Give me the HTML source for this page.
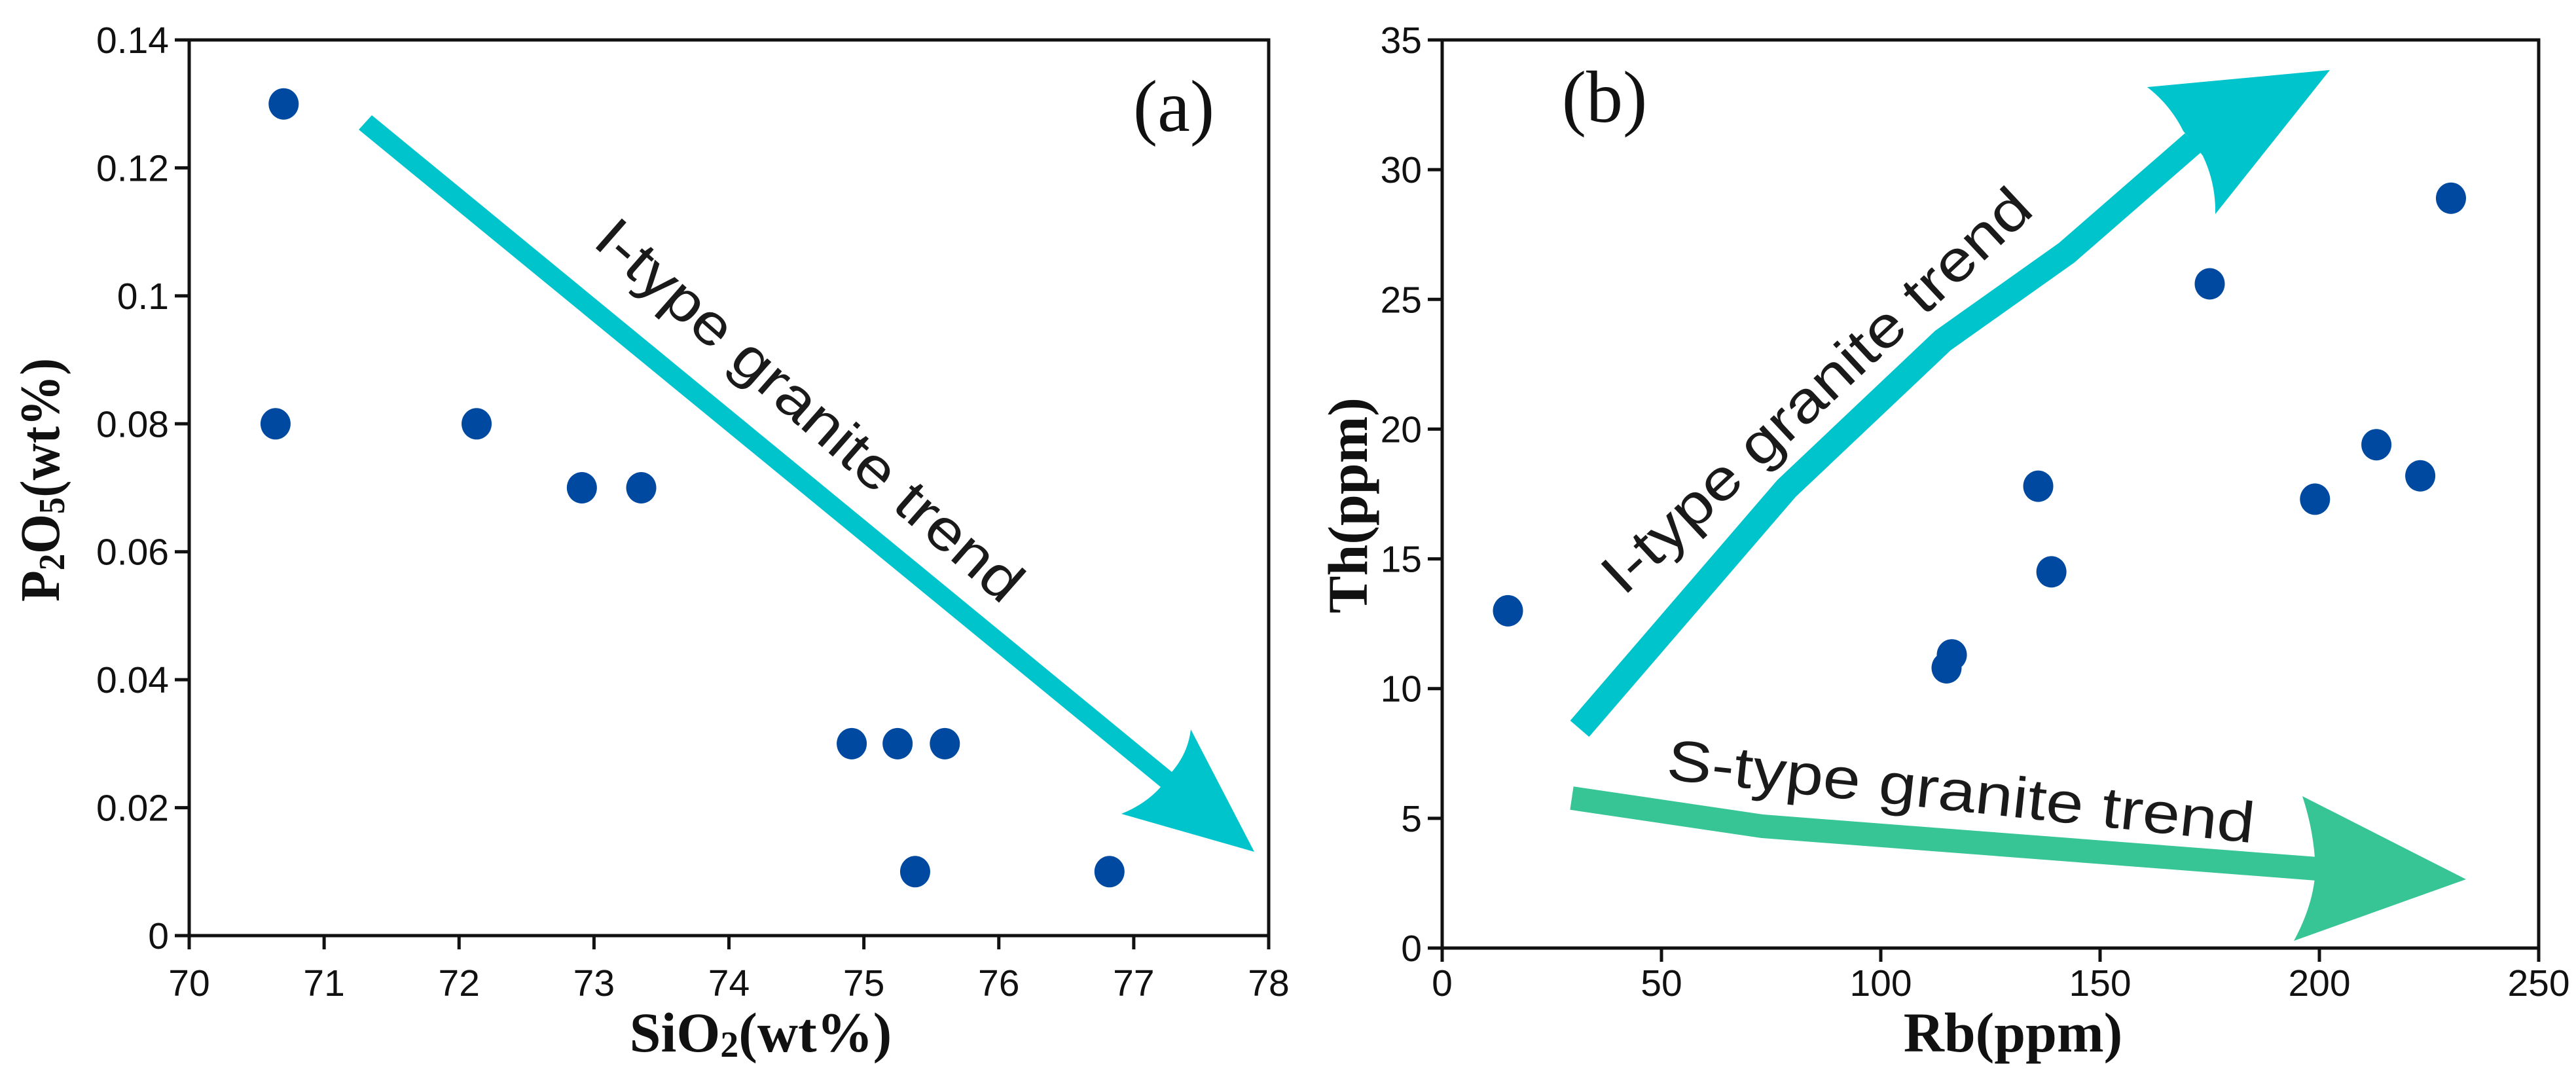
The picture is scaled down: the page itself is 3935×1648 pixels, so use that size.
<!DOCTYPE html>
<html><head><meta charset="utf-8"><style>
html,body{margin:0;padding:0;background:#fff;}
svg{display:block;}
.tk{font-family:"Liberation Sans",sans-serif;font-size:57px;fill:#111;}
.ttl{font-family:"Liberation Serif",serif;font-weight:bold;font-size:86px;fill:#111;}
.ann{font-family:"Liberation Sans",sans-serif;font-size:88px;fill:#1a1a1a;}
.lab{font-family:"Liberation Serif",serif;font-size:112px;fill:#111;}
</style></head><body>
<svg id="chart" width="3935" height="1648" viewBox="0 0 3935 1648" xmlns="http://www.w3.org/2000/svg">
<g id="pa"></g>
<g id="pb"></g>
</svg>
<script>
// Panel (a) data
const aSiO2 = [70.70, 70.64, 72.13, 72.91, 73.35, 74.91, 75.25, 75.60, 75.38, 76.82];
const aP2O5 = [0.13, 0.08, 0.08, 0.07, 0.07, 0.03, 0.03, 0.03, 0.01, 0.01];
const aXTicks = [70, 71, 72, 73, 74, 75, 76, 77, 78];
const aYTicks = [0, 0.02, 0.04, 0.06, 0.08, 0.1, 0.12, 0.14];
const aYTickLabels = ["0", "0.02", "0.04", "0.06", "0.08", "0.1", "0.12", "0.14"];
// Panel (b) data
const bRb = [15, 115, 116.2, 135.9, 138.9, 175, 199, 213, 223, 230];
const bTh = [13.0, 10.8, 11.3, 17.8, 14.5, 25.6, 17.3, 19.4, 18.2, 28.9];
const bXTicks = [0, 50, 100, 150, 200, 250];
const bYTicks = [0, 5, 10, 15, 20, 25, 30, 35];

const NS = "http://www.w3.org/2000/svg";
function mk(tag, attrs, parent, txt) {
  const e = document.createElementNS(NS, tag);
  for (const k in attrs) e.setAttribute(k, attrs[k]);
  if (txt !== undefined) e.textContent = txt;
  parent.appendChild(e);
  return e;
}
function lin(d0, d1, r0, r1) { return v => r0 + (v - d0) / (d1 - d0) * (r1 - r0); }

function axes(g, L, R, T, B, sx, sy, xt, yt, ytl) {
  const box = mk('rect', {x: L, y: T, width: R - L, height: B - T, fill: 'none', stroke: '#111', 'stroke-width': 5}, g);
  
  
  xt.forEach(v => {
    const x = sx(v);
    const t = mk('line', {x1: x, y1: B, x2: x, y2: B + 21, stroke: '#111', 'stroke-width': 5}, g);
    
    
    const l = mk('text', {x: x, y: 1521, 'text-anchor': 'middle', class: 'tk'}, g, String(v));
    
    
  });
  yt.forEach((v, i) => {
    const y = sy(v);
    const t = mk('line', {x1: L - 22, y1: y, x2: L, y2: y, stroke: '#111', 'stroke-width': 5}, g);
    
    
    const l = mk('text', {x: L - 31, y: y + 20, 'text-anchor': 'end', class: 'tk'}, g, ytl ? ytl[i] : String(v));
    
    
  });
}
function dots(g, xs, ys, sx, sy) {
  xs.forEach((v, i) => {
    const c = mk('ellipse', {cx: sx(v), cy: sy(ys[i]), rx: 23, ry: 24, fill: '#0049A0'}, g);
    
    
  });
}

// ---- Panel a ----
const ga = document.getElementById('pa');
const axL = 289, axR = 1938, axT = 61, axB = 1429;
const sxa = lin(70, 78, axL, axR), sya = lin(0, 0.14, axB, axT);
const arA = mk('path', {d: 'M 548 198 L 568 176 L 1790 1179 Q 1815 1150 1819 1114 L 1916 1301 L 1713 1243 Q 1750 1228 1773 1202 Z', fill: '#00C4CC'}, ga);


const tA = mk('text', {x: 0, y: 0, class: 'ann', transform: 'translate(903 373) rotate(41.3)', textLength: 836, lengthAdjust: 'spacingAndGlyphs'}, ga, 'I-type granite  trend');


axes(ga, axL, axR, axT, axB, sxa, sya, aXTicks, aYTicks, aYTickLabels);
dots(ga, aSiO2, aP2O5, sxa, sya);
const la = mk('text', {x: 1793, y: 200, 'text-anchor': 'middle', class: 'lab'}, ga, '(a)');


const xta = mk('text', {x: 1162, y: 1606, 'text-anchor': 'middle', class: 'ttl'}, ga);


xta.innerHTML = 'SiO<tspan font-size="56" dy="8">2</tspan><tspan dy="-8">(wt%)</tspan>';
const yta = mk('text', {x: 0, y: 0, 'text-anchor': 'middle', class: 'ttl', transform: 'translate(90 733) rotate(-90)', textLength: 372, lengthAdjust: 'spacingAndGlyphs'}, ga);


yta.innerHTML = 'P<tspan font-size="56" dy="8">2</tspan><tspan dy="-8">O</tspan><tspan font-size="56" dy="8">5</tspan><tspan dy="-8">(wt%)</tspan>';

// ---- Panel b ----
const gb = document.getElementById('pb');
const bL = 2203, bR = 3878, bT = 61, bB = 1448;
const sxb = lin(0, 250, bL, bR), syb = lin(0, 35, bB, bT);
const shB = mk('path', {d: 'M 2413 1113 L 2729 746 L 2968 520 L 3157 386 L 3350 218', fill: 'none', stroke: '#00C4CC', 'stroke-width': 38, 'stroke-linejoin': 'round'}, gb);


const hdB = mk('path', {d: 'M 3280 133 L 3559 107 L 3384 327 Q 3385 280 3365 238 L 3335 200 Q 3315 160 3280 133 Z', fill: '#00C4CC'}, gb);


const tB = mk('text', {x: 0, y: 0, class: 'ann', transform: 'translate(2480 912) rotate(-43)', textLength: 861, lengthAdjust: 'spacingAndGlyphs'}, gb, 'I-type granite  trend');


const shS = mk('path', {d: 'M 2401 1219 L 2692 1262 L 3540 1327', fill: 'none', stroke: '#38C596', 'stroke-width': 36}, gb);


const hdS = mk('path', {d: 'M 3517 1216 L 3767 1343 L 3504 1437 Q 3535 1380 3537 1327 Q 3535 1270 3517 1216 Z', fill: '#38C596'}, gb);


const tS = mk('text', {x: 0, y: 0, class: 'ann', transform: 'translate(2544 1190) rotate(6.2)', textLength: 902, lengthAdjust: 'spacingAndGlyphs'}, gb, 'S-type granite  trend');


axes(gb, bL, bR, bT, bB, sxb, syb, bXTicks, bYTicks, null);
dots(gb, bRb, bTh, sxb, syb);
const lb = mk('text', {x: 2451, y: 186, 'text-anchor': 'middle', class: 'lab'}, gb, '(b)');


const xtb = mk('text', {x: 3075, y: 1606, 'text-anchor': 'middle', class: 'ttl'}, gb, 'Rb(ppm)');


const ytb = mk('text', {x: 0, y: 0, 'text-anchor': 'middle', class: 'ttl', transform: 'translate(2088 772) rotate(-90)'}, gb, 'Th(ppm)');


</script>
</body></html>
